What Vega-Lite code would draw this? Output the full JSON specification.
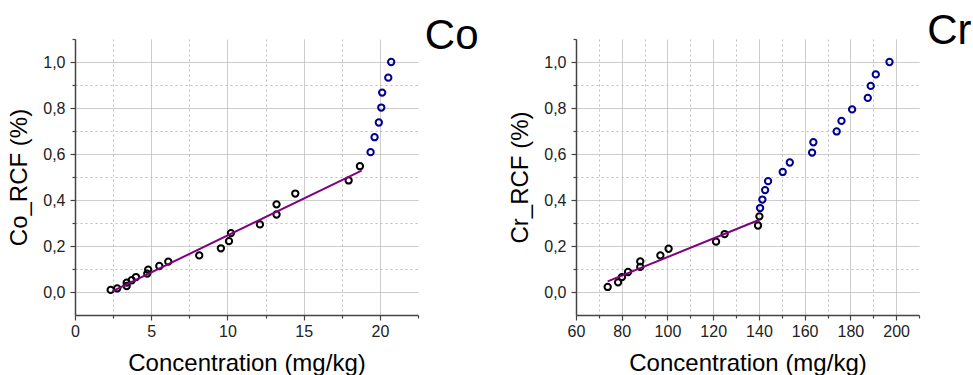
{
  "$schema": "https://vega.github.io/schema/vega-lite/v6.json",
  "background": "white",
  "padding": {"left": 7, "top": 9, "right": 0, "bottom": 0},
  "config": {
    "view": {"stroke": null},
    "font": "Liberation Sans",
    "concat": {"spacing": 30},
    "axis": {
      "domainColor": "#444444",
      "domainWidth": 1.5,
      "tickColor": "#444444",
      "tickWidth": 1.2,
      "gridColor": "#bdbdbd",
      "gridWidth": 1,
      "labelFont": "Liberation Sans",
      "labelFontSize": 16,
      "labelColor": "#222222",
      "labelOverlap": false,
      "labelFlush": false,
      "titleFont": "Liberation Sans",
      "titleFontSize": 24,
      "titleFontWeight": "normal",
      "titleColor": "#000000"
    }
  },
  "datasets": {
    "co": [
      {"x": 2.34, "y": 0.009, "g": "below"},
      {"x": 2.77, "y": 0.016, "g": "below"},
      {"x": 3.39, "y": 0.041, "g": "below"},
      {"x": 3.39, "y": 0.026, "g": "below"},
      {"x": 3.72, "y": 0.051, "g": "below"},
      {"x": 4.0, "y": 0.065, "g": "below"},
      {"x": 4.74, "y": 0.08, "g": "below"},
      {"x": 4.8, "y": 0.097, "g": "below"},
      {"x": 5.53, "y": 0.113, "g": "below"},
      {"x": 6.12, "y": 0.132, "g": "below"},
      {"x": 8.15, "y": 0.159, "g": "below"},
      {"x": 9.57, "y": 0.19, "g": "below"},
      {"x": 10.1, "y": 0.221, "g": "below"},
      {"x": 10.23, "y": 0.256, "g": "below"},
      {"x": 12.13, "y": 0.294, "g": "below"},
      {"x": 13.22, "y": 0.337, "g": "below"},
      {"x": 13.22, "y": 0.381, "g": "below"},
      {"x": 14.45, "y": 0.428, "g": "below"},
      {"x": 17.95, "y": 0.485, "g": "below"},
      {"x": 18.69, "y": 0.547, "g": "below"},
      {"x": 19.39, "y": 0.608, "g": "above"},
      {"x": 19.65, "y": 0.673, "g": "above"},
      {"x": 19.93, "y": 0.737, "g": "above"},
      {"x": 20.09, "y": 0.802, "g": "above"},
      {"x": 20.15, "y": 0.867, "g": "above"},
      {"x": 20.55, "y": 0.932, "g": "above"},
      {"x": 20.74, "y": 1.0, "g": "above"},
      {"x": 2.47, "y": 0.004, "g": "fit"},
      {"x": 18.8, "y": 0.528, "g": "fit"}
    ],
    "cr": [
      {"x": 73.85, "y": 0.022, "g": "below"},
      {"x": 78.4, "y": 0.042, "g": "below"},
      {"x": 80.1, "y": 0.065, "g": "below"},
      {"x": 82.75, "y": 0.087, "g": "below"},
      {"x": 88.1, "y": 0.109, "g": "below"},
      {"x": 88.1, "y": 0.133, "g": "below"},
      {"x": 96.9, "y": 0.159, "g": "below"},
      {"x": 100.5, "y": 0.188, "g": "below"},
      {"x": 121.25, "y": 0.219, "g": "below"},
      {"x": 125.0, "y": 0.252, "g": "below"},
      {"x": 139.6, "y": 0.289, "g": "below"},
      {"x": 140.2, "y": 0.329, "g": "below"},
      {"x": 140.5, "y": 0.365, "g": "above"},
      {"x": 141.5, "y": 0.402, "g": "above"},
      {"x": 142.7, "y": 0.443, "g": "above"},
      {"x": 144.0, "y": 0.482, "g": "above"},
      {"x": 150.4, "y": 0.522, "g": "above"},
      {"x": 153.5, "y": 0.563, "g": "above"},
      {"x": 163.25, "y": 0.606, "g": "above"},
      {"x": 163.8, "y": 0.651, "g": "above"},
      {"x": 174.0, "y": 0.698, "g": "above"},
      {"x": 176.1, "y": 0.744, "g": "above"},
      {"x": 180.75, "y": 0.794, "g": "above"},
      {"x": 187.6, "y": 0.844, "g": "above"},
      {"x": 188.9, "y": 0.896, "g": "above"},
      {"x": 191.1, "y": 0.946, "g": "above"},
      {"x": 197.1, "y": 1.0, "g": "above"},
      {"x": 73.85, "y": 0.046, "g": "fit"},
      {"x": 140.2, "y": 0.314, "g": "fit"}
    ]
  },
  "hconcat": [
    {
      "width": 343,
      "height": 276,
      "data": {"name": "co"},
      "encoding": {
        "x": {"field": "x", "type": "quantitative", "title": "Concentration (mg/kg)",
          "scale": {"domain": [0, 22.5], "nice": false, "zero": false},
          "axis": {
            "values": [0, 2.5, 5, 7.5, 10, 12.5, 15, 17.5, 20, 22.5],
            "labelExpr": "datum.value % 5 == 0 ? format(datum.value, 'd') : ''",
            "tickSize": {"condition": {"test": "datum.value % 5 != 0", "value": 3}, "value": 5},
            "gridDash": {"condition": {"test": "datum.value % 5 != 0", "value": [2, 3]}, "value": [1, 0]},
            "gridOpacity": {"condition": {"test": "datum.value > 22", "value": 0}, "value": 1},
            "labelPadding": 3,
            "titlePadding": 12
          }
        },
        "y": {"field": "y", "type": "quantitative", "title": "Co_RCF (%)",
          "scale": {"domain": [-0.1, 1.1], "nice": false, "zero": false},
          "axis": {
            "values": [0, 0.1, 0.2, 0.3, 0.4, 0.5, 0.6, 0.7, 0.8, 0.9, 1.0, 1.1],
            "labelExpr": "(round(datum.value * 10) % 2 == 0 && datum.value < 1.05) ? replace(format(datum.value, '.1f'), '.', ',') : ''",
            "tickSize": {"condition": {"test": "round(datum.value * 10) % 2 == 1", "value": 3}, "value": 5},
            "gridDash": {"condition": {"test": "round(datum.value * 10) % 2 == 1", "value": [2, 3]}, "value": [1, 0]},
            "gridOpacity": {"condition": {"test": "datum.value > 1.05", "value": 0}, "value": 1},
            "labelPadding": 5,
            "titlePadding": 11
          }
        }
      },
      "layer": [
        {
          "transform": [{"filter": "datum.g != 'fit'"}],
          "mark": {"type": "point", "filled": false, "shape": "circle", "size": 40, "strokeWidth": 2, "opacity": 1},
          "encoding": {
            "color": {"field": "g", "type": "nominal", "scale": {"domain": ["below", "above"], "range": ["#000000", "#000090"]}, "legend": null}
          }
        },
        {
          "transform": [{"filter": "datum.g == 'fit'"}],
          "mark": {"type": "line", "color": "#800080", "strokeWidth": 2},
          "encoding": {
            "x": {"field": "x", "type": "quantitative", "title": "Co",
              "axis": {"orient": "top", "domain": false, "ticks": false, "labels": false, "grid": false,
                "titleFontSize": 42, "titleAlign": "right", "titleBaseline": "alphabetic", "titleAnchor": "end",
                "titleX": 403, "titleY": 9, "titleAngle": 0}
            }
          }
        }
      ],
      "resolve": {"axis": {"x": "independent"}}
    },
    {
      "width": 343,
      "height": 276,
      "data": {"name": "cr"},
      "encoding": {
        "x": {"field": "x", "type": "quantitative", "title": "Concentration (mg/kg)",
          "scale": {"domain": [60, 210], "nice": false, "zero": false},
          "axis": {
            "values": [60, 70, 80, 90, 100, 110, 120, 130, 140, 150, 160, 170, 180, 190, 200, 210],
            "labelExpr": "(datum.value % 20 == 0 && datum.value < 205) ? format(datum.value, 'd') : ''",
            "tickSize": {"condition": {"test": "datum.value % 20 != 0", "value": 3}, "value": 5},
            "gridDash": {"condition": {"test": "datum.value % 20 != 0", "value": [2, 3]}, "value": [1, 0]},
            "gridOpacity": {"condition": {"test": "datum.value > 205", "value": 0}, "value": 1},
            "labelPadding": 3,
            "titlePadding": 12
          }
        },
        "y": {"field": "y", "type": "quantitative", "title": "Cr_RCF (%)",
          "scale": {"domain": [-0.1, 1.1], "nice": false, "zero": false},
          "axis": {
            "values": [0, 0.1, 0.2, 0.3, 0.4, 0.5, 0.6, 0.7, 0.8, 0.9, 1.0, 1.1],
            "labelExpr": "(round(datum.value * 10) % 2 == 0 && datum.value < 1.05) ? replace(format(datum.value, '.1f'), '.', ',') : ''",
            "tickSize": {"condition": {"test": "round(datum.value * 10) % 2 == 1", "value": 3}, "value": 5},
            "gridDash": {"condition": {"test": "round(datum.value * 10) % 2 == 1", "value": [2, 3]}, "value": [1, 0]},
            "gridOpacity": {"condition": {"test": "datum.value > 1.05", "value": 0}, "value": 1},
            "labelPadding": 5,
            "titlePadding": 11
          }
        }
      },
      "layer": [
        {
          "transform": [{"filter": "datum.g != 'fit'"}],
          "mark": {"type": "point", "filled": false, "shape": "circle", "size": 40, "strokeWidth": 2, "opacity": 1},
          "encoding": {
            "color": {"field": "g", "type": "nominal", "scale": {"domain": ["below", "above"], "range": ["#000000", "#000090"]}, "legend": null}
          }
        },
        {
          "transform": [{"filter": "datum.g == 'fit'"}],
          "mark": {"type": "line", "color": "#800080", "strokeWidth": 2},
          "encoding": {
            "x": {"field": "x", "type": "quantitative", "title": "Cr",
              "axis": {"orient": "top", "domain": false, "ticks": false, "labels": false, "grid": false,
                "titleFontSize": 42, "titleAlign": "right", "titleBaseline": "alphabetic", "titleAnchor": "end",
                "titleX": 395, "titleY": 4, "titleAngle": 0}
            }
          }
        }
      ],
      "resolve": {"axis": {"x": "independent"}}
    }
  ]
}
